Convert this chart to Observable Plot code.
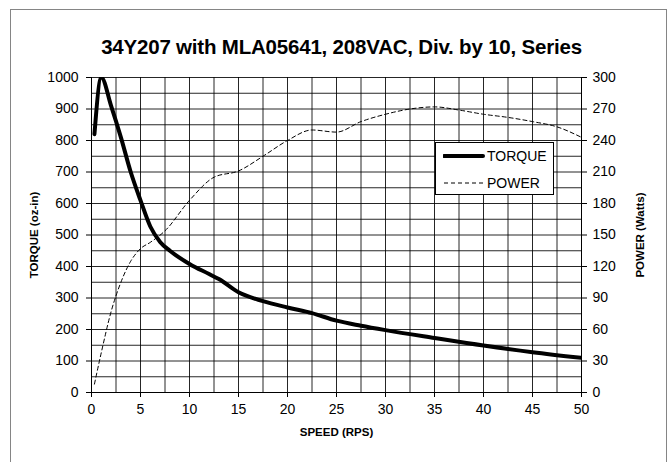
<!DOCTYPE html>
<html>
<head>
<meta charset="utf-8">
<script src="https://cdn.jsdelivr.net/npm/d3@7"></script>
<script src="https://cdn.jsdelivr.net/npm/@observablehq/plot@0.6"></script>
<style>
  html, body { margin: 0; padding: 0; background: #fff; }
  #wrap { position: relative; width: 671px; height: 462px; overflow: hidden; font-family: "Liberation Sans", Arial, sans-serif; }
  #frame { position: absolute; left: 10px; top: 9px; width: 657px; height: 470px; border: 1.5px solid #858585; box-sizing: border-box; }
  #title { position: absolute; left: 0; top: 0; width: 671px; height: 60px; }
  #title div { position: absolute; left: 0; right: 0; top: 35px; text-align: center; font-weight: bold; font-size: 20.5px; color: #000; padding-left: 12px; letter-spacing: -0.2px; }
  #chart { position: absolute; left: 0; top: 60px; }
  #legend { position: absolute; left: 435px; top: 142px; width: 119px; height: 53px; background: #fff; border: 1px solid #000; box-sizing: border-box; font-size: 14px; }
  #legend .row { position: absolute; left: 0; display: flex; align-items: center; }
  #legend svg { display: block; }
</style>
</head>
<body>
<div id="wrap">
  <div id="frame"></div>
  <div id="title"><div></div></div>
  <div id="chart"></div>
  <div id="legend"></div>
</div>
<script>
const titleText = "34Y207 with MLA05641, 208VAC, Div. by 10, Series";
const xLabel = "SPEED (RPS)";
const yLabelLeft = "TORQUE (oz-in)";
const yLabelRight = "POWER (Watts)";
const seriesNames = ["TORQUE", "POWER"];

const torqueSpeed = [0.3, 1.0, 2.0, 3.0, 4.0, 5.0, 6.0, 7.0, 8.0, 10.0, 12.0, 13.0, 15.0, 17.5, 20.0, 22.5, 25.0, 27.5, 30.0, 35.0, 40.0, 45.0, 50.0];
const torqueValues = [820, 1000, 910, 810, 700, 610, 527, 478, 450, 408, 376, 360, 318, 290, 270, 252, 228, 212, 198, 173, 149, 128, 110];

const powerSpeed = [0.3, 1, 2, 3, 4, 5, 6, 7.5, 10, 12.5, 15, 17.5, 20, 22.5, 25, 27.5, 30, 32.5, 35, 37.5, 40, 42.5, 45, 47.5, 50];
const powerValues = [8, 38, 77, 105, 125, 137, 143, 154, 183, 205, 211, 225, 240, 250, 248, 258, 265, 270, 272, 269, 265, 262, 258, 253, 243];

const xTicks = [0, 5, 10, 15, 20, 25, 30, 35, 40, 45, 50];
const torqueTicks = [0, 100, 200, 300, 400, 500, 600, 700, 800, 900, 1000];
const powerTicks = [0, 30, 60, 90, 120, 150, 180, 210, 240, 270, 300];

const torqueMax = 1000, powerMax = 300;
const pScale = torqueMax / powerMax;

const torqueData = torqueSpeed.map((x, i) => ({x, y: torqueValues[i]}));
const powerData = powerSpeed.map((x, i) => ({x, y: powerValues[i]}));

document.querySelector("#title div").textContent = titleText;

const font = "Liberation Sans, Arial, sans-serif";

const chart = Plot.plot({
  width: 671,
  height: 402,
  marginLeft: 91,
  marginRight: 90,
  marginTop: 17,
  marginBottom: 70,
  style: {fontFamily: font, fontSize: "14px", color: "#000", background: "transparent", overflow: "visible"},
  x: {domain: [0, 50]},
  y: {domain: [0, 1000]},
  marks: [
    Plot.gridX(d3.range(0, 50.001, 2.5), {stroke: "#000", strokeOpacity: 0.85, strokeWidth: 1}),
    Plot.gridY(d3.range(0, 1000.001, 50), {stroke: "#000", strokeOpacity: 0.85, strokeWidth: 1}),
    Plot.ruleY([0], {stroke: "#000"}),
    Plot.ruleX([0], {stroke: "#000"}),
    Plot.ruleX([50], {stroke: "#000"}),
    Plot.axisX({ticks: xTicks, tickFormat: d => String(d), tickSize: 5, tickPadding: 7, fontSize: 14, label: xLabel, labelAnchor: "center", labelArrow: "none", labelOffset: 43}),
    Plot.axisY({ticks: torqueTicks, tickFormat: d => String(d), tickSize: 5, tickPadding: 8, fontSize: 14, label: yLabelLeft, labelAnchor: "center", labelArrow: "none", labelOffset: 62}),
    Plot.axisY({anchor: "right", ticks: powerTicks.map(v => v * pScale), tickFormat: v => String(Math.round(v / pScale)), tickSize: 5, tickPadding: 6, fontSize: 14, label: yLabelRight, labelAnchor: "center", labelArrow: "none", labelOffset: 62}),
    Plot.line(powerData, {x: "x", y: d => d.y * pScale, stroke: "#000", strokeWidth: 1, strokeDasharray: "4,3", curve: "monotone-x"}),
    Plot.line(torqueData, {x: "x", y: "y", stroke: "#000", strokeWidth: 4, curve: "monotone-x", clip: true})
  ]
});
document.getElementById("chart").appendChild(chart);

// style axis titles bold (not tick labels)
chart.querySelectorAll("[aria-label='x-axis label'] text, [aria-label='y-axis label'] text").forEach(t => {
  t.setAttribute("font-weight", "bold");
  t.setAttribute("font-size", "11.5px");
});

// legend
const legend = document.getElementById("legend");
const rows = [
  {name: seriesNames[0], w: 4, dash: null, top: 4},
  {name: seriesNames[1], w: 1, dash: "4,3", top: 31}
];
rows.forEach(r => {
  const row = document.createElement("div");
  row.className = "row";
  row.style.top = r.top + "px";
  row.style.height = "18px";
  row.style.left = "7px";
  const s = d3.create("svg").attr("width", 44).attr("height", 18);
  s.append("line").attr("x1", 1).attr("x2", 40).attr("y1", 9).attr("y2", 9)
    .attr("stroke", "#000").attr("stroke-width", r.w).attr("stroke-linecap", r.dash ? "butt" : "round")
    .attr("stroke-dasharray", r.dash);
  row.appendChild(s.node());
  const t = document.createElement("span");
  t.textContent = r.name;
  t.style.fontSize = "14px";
  t.style.lineHeight = "18px";
  row.appendChild(t);
  legend.appendChild(row);
});
</script>
</body>
</html>
